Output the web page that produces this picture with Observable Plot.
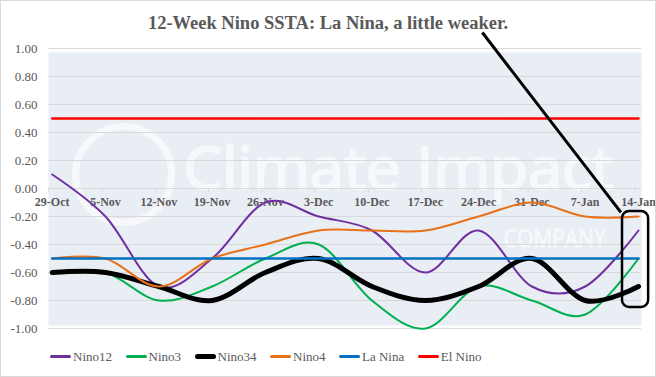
<!DOCTYPE html>
<html>
<head>
<meta charset="utf-8">
<script src="https://cdn.jsdelivr.net/npm/d3@7"></script>
<script src="https://cdn.jsdelivr.net/npm/@observablehq/plot@0.6"></script>
<style>
  html, body { margin: 0; padding: 0; background: #fff; }
  #chart { position: relative; width: 656px; height: 377px; box-sizing: border-box; border: 1px solid #d9d9d9; background: #fff; overflow: hidden; }
  #chart svg { display: block; }
  #legend { height: 39px; display: flex; align-items: center; padding-left: 49px; font-family: "Liberation Serif", "Times New Roman", Tinos, "DejaVu Serif", serif; font-size: 13px; color: #595959; }
  .item { display: flex; align-items: center; margin-right: 13.5px; }
  .sw { width: 21px; margin-right: 2px; border-radius: 3px; }
</style>
</head>
<body>
<div id="chart"></div>
<script>
const titleText = "12-Week Nino SSTA: La Nina, a little weaker.";
const categories = ["29-Oct","5-Nov","12-Nov","19-Nov","26-Nov","3-Dec","10-Dec","17-Dec","24-Dec","31-Dec","7-Jan","14-Jan"];
const nino12 = [0.10, -0.20, -0.70, -0.50, -0.10, -0.20, -0.30, -0.60, -0.30, -0.70, -0.70, -0.30];
const nino3  = [-0.60, -0.60, -0.80, -0.70, -0.50, -0.40, -0.80, -1.00, -0.70, -0.80, -0.90, -0.50];
const nino34 = [-0.60, -0.60, -0.70, -0.80, -0.60, -0.50, -0.70, -0.80, -0.70, -0.50, -0.80, -0.70];
const nino4  = [-0.50, -0.50, -0.70, -0.50, -0.40, -0.30, -0.30, -0.30, -0.20, -0.10, -0.20, -0.20];
const laNina = [-0.5, -0.5, -0.5, -0.5, -0.5, -0.5, -0.5, -0.5, -0.5, -0.5, -0.5, -0.5];
const elNino = [0.5, 0.5, 0.5, 0.5, 0.5, 0.5, 0.5, 0.5, 0.5, 0.5, 0.5, 0.5];
const yTicks = [-1.0, -0.8, -0.6, -0.4, -0.2, 0.0, 0.2, 0.4, 0.6, 0.8, 1.0];
const seriesNames = ["Nino12", "Nino3", "Nino34", "Nino4", "La Nina", "El Nino"];
const watermarkText = ["Climate Impact", "COMPANY"];

const seriesValues = [nino12, nino3, nino34, nino4, laNina, elNino];
const seriesColors = ["#7030A0", "#00B050", "#000000", "#E8711A", "#0070C0", "#FF0000"];
const seriesWidths = [2, 2, 5, 2, 2.5, 2.5];

const SERIF = "'Liberation Serif', 'Times New Roman', Tinos, 'DejaVu Serif', serif";
const SANS = "'Open Sans', 'Liberation Sans', sans-serif";

const W = 654, H = 336;
const mL = 47, mR = 14, mT = 47, mB = 9;
const idx = categories.map((d, i) => i);

const lineMarks = seriesValues.map((vals, s) =>
  Plot.line(vals, {
    x: (d, i) => i, y: d => d,
    curve: "cardinal", tension: 0,
    stroke: seriesColors[s], strokeWidth: seriesWidths[s],
    strokeLinecap: "round", strokeLinejoin: "round"
  })
);

const lastVals = [nino12, nino3, nino34, nino4].map(a => a[a.length - 1]);

const chart = Plot.plot({
  width: W, height: H,
  marginLeft: mL, marginRight: mR, marginTop: mT, marginBottom: mB,
  x: { type: "linear", domain: [0, categories.length - 1], range: [mL + 3.7, W - mR - 3], axis: null },
  y: { domain: [-1, 1] },
  style: { fontFamily: SERIF, fontSize: "13px", color: "#595959", background: "white", overflow: "visible" },
  marks: [
    Plot.frame({ fill: "#E9EDF4", stroke: null, insetTop: 4, insetBottom: 3 }),
    // watermark
    Plot.dot([0], { x: 1.34, y: 0.1, r: 48, stroke: "white", strokeWidth: 7, strokeOpacity: 0.6, fill: "none" }),
    Plot.text([watermarkText[0]], { text: d => d, x: 2.46, y: 0, textAnchor: "start", lineAnchor: "bottom", fontSize: 58, fontFamily: SANS, fill: "white", stroke: "white", strokeWidth: 2, opacity: 0.65, className: "wm-main" }),
    Plot.text([watermarkText[1]], { text: d => d, x: 8.47, y: -0.42, textAnchor: "start", lineAnchor: "bottom", fontSize: 26, fontFamily: SANS, fill: "white", stroke: "white", strokeWidth: 1, opacity: 0.65, className: "wm-sub" }),
    Plot.ruleY(yTicks, { y: d => d, stroke: "#D9D9D9", strokeWidth: 1 }),
    Plot.ruleX(idx, { x: d => d, y1: 0, y2: -0.03, dx: -3.6, stroke: "#D9D9D9" }),
    Plot.axisY(yTicks, { tickFormat: d => d.toFixed(2), tickSize: 0, tickPadding: 11, fontSize: 13, fontFamily: SERIF, label: null, fill: "#595959" }),
    Plot.text(categories, { text: d => d, x: (d, i) => i, y: 0, dy: 14, lineAnchor: "middle", fontSize: 12, fontWeight: "bold", fontFamily: SERIF, fill: "#595959" }),
    ...lineMarks,
    // title
    Plot.text([titleText], { text: d => d, frameAnchor: "top", dx: -17, dy: -25, lineAnchor: "middle", fontSize: 18.5, fontWeight: "bold", fontFamily: SERIF, fill: "#595959" }),
    // annotation: arrow from title to box around the latest week
    Plot.link([0], { x1: 8.07, y1: 1.114, x2: 10.67, y2: -0.17, stroke: "black", strokeWidth: 3 }),
    Plot.rect([0], { x1: 10.7, x2: 11.19, y1: d3.max(lastVals) + 0.035, y2: d3.min(lastVals) - 0.15, rx: 7, fill: "none", stroke: "black", strokeWidth: 2.5 })
  ]
});

d3.select(chart).selectAll(".wm-main text").attr("textLength", 430).attr("lengthAdjust", "spacingAndGlyphs");
d3.select(chart).selectAll(".wm-sub text").attr("textLength", 102).attr("lengthAdjust", "spacingAndGlyphs");

const root = document.getElementById("chart");
root.appendChild(chart);

const legend = document.createElement("div");
legend.id = "legend";
seriesNames.forEach((name, s) => {
  const item = document.createElement("div");
  item.className = "item";
  const sw = document.createElement("div");
  sw.className = "sw";
  sw.style.height = (s === 2 ? 5 : 2.5) + "px";
  sw.style.background = seriesColors[s];
  const lab = document.createElement("span");
  lab.textContent = name;
  item.appendChild(sw);
  item.appendChild(lab);
  legend.appendChild(item);
});
root.appendChild(legend);
</script>
</body>
</html>
